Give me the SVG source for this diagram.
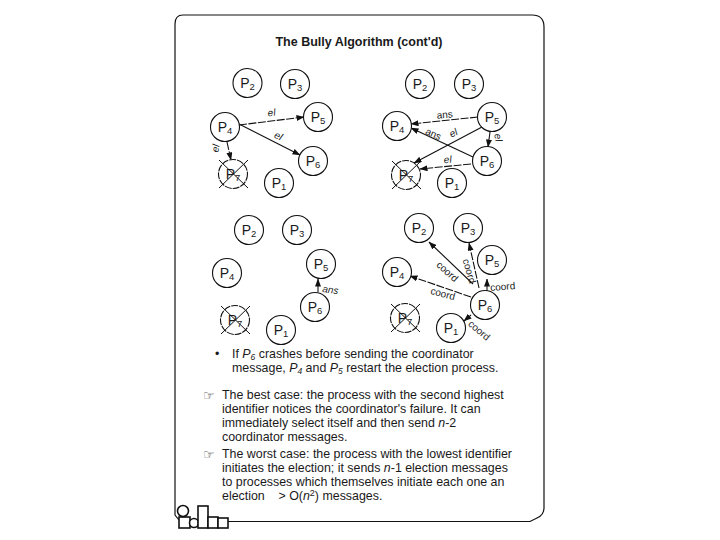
<svg xmlns="http://www.w3.org/2000/svg" width="720" height="540" viewBox="0 0 720 540">
<style>
text{font-family:"Liberation Sans",Arial,sans-serif;fill:#1a1a1a}
.n circle,circle.x{fill:#fff;stroke:#111;stroke-width:1.1}
circle.x{stroke-dasharray:7 1}
.n text{font-size:14px;text-anchor:middle}
.n tspan{font-size:9.5px}
.x2{stroke:#111;stroke-width:1;fill:none}
.c line{stroke:#111;stroke-width:1.1;marker-end:url(#a)}
.c .d{stroke-dasharray:8 1.5}
.l{font-size:10px;text-anchor:middle}
.i{font-style:italic}
.b{font-size:12.4px}
.s{font-size:8.5px;font-style:italic}
.h{font-family:"DejaVu Sans",sans-serif;font-size:13px;fill:#555}
.f{fill:none;stroke:#111;stroke-width:1.2}
.k{fill:#fff;stroke:#111;stroke-width:1.6}
</style>
<defs>
<marker id="a" viewBox="0 0 8 6" refX="7.5" refY="3" markerWidth="8" markerHeight="6" markerUnits="userSpaceOnUse" orient="auto"><path d="M0 0L8 3L0 6z" fill="#111"/></marker>
<circle id="c7" class="x" r="14.5"/>
<path id="x7" class="x2" d="M-14-14L15 14M-14 14L15-14"/>
</defs>
<rect width="720" height="540" fill="#fff"/>
<path class="f" d="M183 15H532Q544 15 544 27V508Q544 515 537 518L530 521.500H228M175 505V24Q175 15 183 15"/>
<path class="f" d="M175 505V515L179 520"/>
<g id="frame-icons">
<rect class="k" x="179" y="517" width="11" height="11"/><circle class="k" cx="183" cy="511" r="5.500"/><circle class="k" cx="194" cy="523" r="4.500"/><rect class="k" x="198" y="506" width="10" height="22"/><rect class="k" x="208" y="517" width="10" height="11"/><rect class="k" x="218" y="518" width="10" height="10"/>
</g>
<text x="359" y="46" text-anchor="middle" font-size="12.500" font-weight="bold">The Bully Algorithm (cont'd)</text>

<g class="c" id="connectors">
<line class="d" x1="239" y1="125" x2="304" y2="117"/><line x1="239" y1="124" x2="300" y2="155"/><line class="d" x1="227" y1="142" x2="231" y2="160"/>
<line class="d" x1="478" y1="117" x2="411" y2="124"/><line x1="473" y1="157" x2="411" y2="128"/><line x1="482" y1="127" x2="414" y2="163"/><line x1="490" y1="132" x2="488" y2="147"/><line class="d" x1="471" y1="164" x2="420" y2="169"/>
<line x1="318" y1="292" x2="318" y2="279"/>
<line x1="473" y1="284" x2="429" y2="242"/><line class="d" x1="479" y1="288" x2="469" y2="243"/><line x1="487" y1="292" x2="487" y2="279"/><line class="d" x1="471" y1="297" x2="410" y2="276"/><line x1="471" y1="315" x2="464" y2="321"/>
</g>

<g class="n" id="a-P2"><circle cx="247.500" cy="83" r="14.500"/><text x="247.500" y="88">P<tspan dy="2">2</tspan></text></g>
<g class="n" id="a-P3"><circle cx="295" cy="84" r="14.500"/><text x="295" y="89">P<tspan dy="2">3</tspan></text></g>
<g class="n" id="a-P5"><circle cx="318" cy="117" r="14.500"/><text x="318" y="122">P<tspan dy="2">5</tspan></text></g>
<g class="n" id="a-P4"><circle cx="225" cy="127" r="14.500"/><text x="225" y="132">P<tspan dy="2">4</tspan></text></g>
<g class="n" id="a-P6"><circle cx="313" cy="161" r="14.500"/><text x="313" y="166">P<tspan dy="2">6</tspan></text></g>
<g class="n" id="a-P7"><use href="#c7" x="233" y="174"/><text x="233" y="179">P<tspan dy="2">7</tspan></text><use href="#x7" x="233" y="174"/></g>
<g class="n" id="a-P1"><circle cx="279" cy="183" r="14.500"/><text x="279" y="188">P<tspan dy="2">1</tspan></text></g>

<g class="n" id="b-P2"><circle cx="420" cy="84" r="14.500"/><text x="420" y="89">P<tspan dy="2">2</tspan></text></g>
<g class="n" id="b-P3"><circle cx="469" cy="84" r="14.500"/><text x="469" y="89">P<tspan dy="2">3</tspan></text></g>
<g class="n" id="b-P5"><circle cx="492" cy="117" r="14.500"/><text x="492" y="122">P<tspan dy="2">5</tspan></text></g>
<g class="n" id="b-P4"><circle cx="397" cy="126" r="14.500"/><text x="397" y="131">P<tspan dy="2">4</tspan></text></g>
<g class="n" id="b-P6"><circle cx="487" cy="161" r="14.500"/><text x="487" y="166">P<tspan dy="2">6</tspan></text></g>
<g class="n" id="b-P7"><use href="#c7" x="406" y="175"/><text x="406" y="180">P<tspan dy="2">7</tspan></text><use href="#x7" x="406" y="175"/></g>
<g class="n" id="b-P1"><circle cx="452" cy="183" r="14.500"/><text x="452" y="188">P<tspan dy="2">1</tspan></text></g>

<g class="n" id="c-P2"><circle cx="249" cy="230" r="14.500"/><text x="249" y="235">P<tspan dy="2">2</tspan></text></g>
<g class="n" id="c-P3"><circle cx="297" cy="230" r="14.500"/><text x="297" y="235">P<tspan dy="2">3</tspan></text></g>
<g class="n" id="c-P5"><circle cx="321" cy="264" r="14.500"/><text x="321" y="269">P<tspan dy="2">5</tspan></text></g>
<g class="n" id="c-P4"><circle cx="227" cy="273" r="14.500"/><text x="227" y="278">P<tspan dy="2">4</tspan></text></g>
<g class="n" id="c-P6"><circle cx="315" cy="307" r="14.500"/><text x="315" y="312">P<tspan dy="2">6</tspan></text></g>
<g class="n" id="c-P7"><use href="#c7" x="235" y="320"/><text x="235" y="325">P<tspan dy="2">7</tspan></text><use href="#x7" x="235" y="320"/></g>
<g class="n" id="c-P1"><circle cx="281" cy="330" r="14.500"/><text x="281" y="335">P<tspan dy="2">1</tspan></text></g>

<g class="n" id="d-P2"><circle cx="419" cy="228" r="14.500"/><text x="419" y="233">P<tspan dy="2">2</tspan></text></g>
<g class="n" id="d-P3"><circle cx="468" cy="228" r="14.500"/><text x="468" y="233">P<tspan dy="2">3</tspan></text></g>
<g class="n" id="d-P5"><circle cx="492" cy="260" r="14.500"/><text x="492" y="265">P<tspan dy="2">5</tspan></text></g>
<g class="n" id="d-P4"><circle cx="397" cy="272" r="14.500"/><text x="397" y="277">P<tspan dy="2">4</tspan></text></g>
<g class="n" id="d-P6"><circle cx="485" cy="305" r="14.500"/><text x="485" y="310">P<tspan dy="2">6</tspan></text></g>
<g class="n" id="d-P7"><use href="#c7" x="405" y="318"/><text x="405" y="323">P<tspan dy="2">7</tspan></text><use href="#x7" x="405" y="318"/></g>
<g class="n" id="d-P1"><circle cx="451" cy="328" r="14.500"/><text x="451" y="333">P<tspan dy="2">1</tspan></text></g>

<g id="labels">
<text class="l i" x="272" y="116" transform="rotate(-7 272 116)">el</text>
<text class="l i" x="277" y="139" transform="rotate(25 277 139)">el</text>
<text class="l i" x="219" y="149" transform="rotate(-80 219 149)">el</text>
<text class="l" x="445" y="118" transform="rotate(-5 445 118)">ans</text>
<text class="l" x="432" y="137" transform="rotate(24 432 137)">ans</text>
<text class="l i" x="455" y="136" transform="rotate(-28 455 136)">el</text>
<text class="l i" x="495" y="138" transform="rotate(80 495 138)">el</text>
<text class="l i" x="448" y="163" transform="rotate(-5 448 163)">el</text>
<text class="l i" x="330" y="293" transform="rotate(8 330 293)">ans</text>
<text class="l" x="445" y="274" transform="rotate(42 445 274)">coord</text>
<text class="l" x="466" y="272" transform="rotate(74 466 272)">coord</text>
<text class="l" x="503" y="290" transform="rotate(-5 503 290)">coord</text>
<text class="l" x="442" y="297" transform="rotate(15 442 297)">coord</text>
<text class="l" x="477" y="333" transform="rotate(40 477 333)">coord</text>
</g>

<g id="body">
<text class="b" x="215" y="358" fill="#111">•</text>
<text class="b" x="232" y="358">If <tspan class="i">P</tspan><tspan class="s" dy="2">6</tspan><tspan dy="-2"> crashes before sending the coordinator</tspan></text>
<text class="b" x="232" y="372">message, <tspan class="i">P</tspan><tspan class="s" dy="2">4</tspan><tspan dy="-2"> and </tspan><tspan class="i">P</tspan><tspan class="s" dy="2">5</tspan><tspan dy="-2"> restart the election process.</tspan></text>
<text class="h" x="203" y="400">☞</text>
<text class="b" x="222" y="399">The best case: the process with the second highest</text>
<text class="b" x="222" y="413">identifier notices the coordinator's failure. It can</text>
<text class="b" x="222" y="427">immediately select itself and then send <tspan class="i">n</tspan>-2</text>
<text class="b" x="222" y="441">coordinator messages.</text>
<text class="h" x="203" y="459">☞</text>
<text class="b" x="222" y="458">The worst case: the process with the lowest identifier</text>
<text class="b" x="222" y="472">initiates the election; it sends <tspan class="i">n</tspan>-1 election messages</text>
<text class="b" x="222" y="486">to processes which themselves initiate each one an</text>
<text class="b" x="222" y="500" xml:space="preserve">election    &gt; O(<tspan class="i">n</tspan><tspan font-size="9" dy="-4">2</tspan><tspan dy="4">) messages.</tspan></text>
</g>
</svg>
